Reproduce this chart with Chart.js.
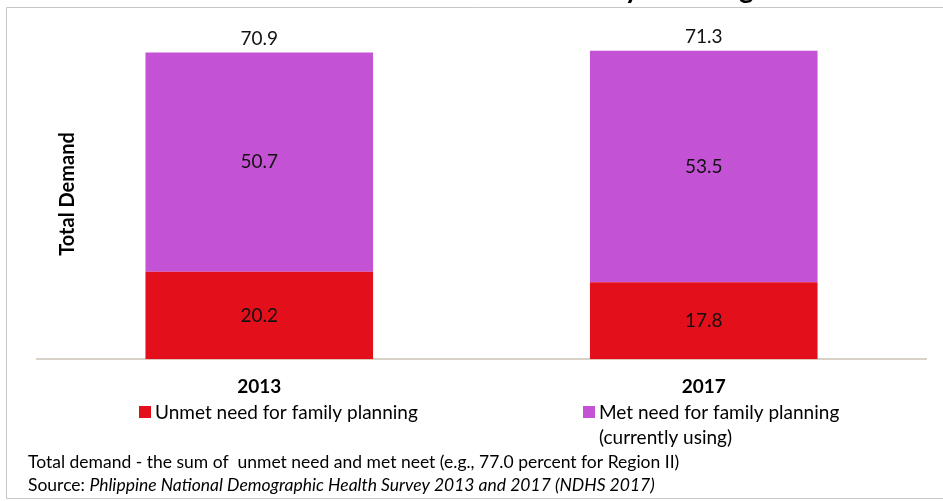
<!DOCTYPE html>
<html>
<head>
<meta charset="utf-8">
<script src="https://cdn.jsdelivr.net/npm/chart.js@4"></script>
<style>
  html, body { margin: 0; padding: 0; background: #fff; }
  #wrap { width: 943px; height: 501px; }
</style>
</head>
<body>
<div id="wrap"><canvas id="demandChart" width="943" height="501"></canvas></div>
<script>
// data
const years = ['2013', '2017']
const unmetNeed = [20.2, 17.8]
const metNeed = [50.7, 53.5]
const totalDemand = [70.9, 71.3]
const seriesNames = ['Unmet need for family planning', 'Met need for family planning']

const RED = '#e3101c'
const PURPLE = '#c452d4'
const FONT = 'Lato'

// value labels in each segment + totals above bars
const labelsPlugin = {
    id: 'labels',
    afterDatasetsDraw(chart) {
        const ctx = chart.ctx
        ctx.save()
        ctx.fillStyle = '#111'
        ctx.font = `19px ${FONT}`
        ctx.textAlign = 'center'
        ctx.textBaseline = 'middle'
        chart.data.datasets.forEach((ds, i) => {
            chart.getDatasetMeta(i).data.forEach((bar, j) => {
                ctx.fillText(ds.data[j].toFixed(1), bar.x, (bar.y + bar.base) / 2)
            })
        })
        const top = chart.getDatasetMeta(1).data
        const y = chart.scales.y
        top.forEach((bar, j) => {
            ctx.fillText(totalDemand[j].toFixed(1), bar.x, y.getPixelForValue(totalDemand[j]) - 14)
        })
        ctx.restore()
    }
}

// frame, cut title, axis title, legend and notes
const decorPlugin = {
    id: 'decor',
    beforeDraw(chart) {
        const ctx = chart.ctx
        ctx.save()
        ctx.fillStyle = '#fff'
        ctx.fillRect(0, 0, chart.width, chart.height)
        ctx.strokeStyle = '#c9c3cc'
        ctx.lineWidth = 1
        ctx.beginPath()
        ctx.moveTo(chart.width, 7.5)
        ctx.lineTo(6.5, 7.5)
        ctx.lineTo(6.5, 498.5)
        ctx.lineTo(chart.width, 498.5)
        ctx.stroke()
        ctx.restore()
    },
    afterDraw(chart) {
        const ctx = chart.ctx
        ctx.save()
        ctx.fillStyle = '#000'

        // title, mostly cut off at the top
        ctx.font = `bold 28px ${FONT}`
        ctx.textAlign = 'center'
        ctx.textBaseline = 'alphabetic'
        ctx.fillText('Total Demand for Family Planning', 545, -2)

        // y axis title
        ctx.save()
        ctx.translate(68, 194)
        ctx.rotate(-Math.PI / 2)
        ctx.font = `bold 20px ${FONT}`
        ctx.textBaseline = 'middle'
        ctx.fillText('Total Demand', 0, 0)
        ctx.restore()

        // legend
        ctx.textAlign = 'left'
        ctx.textBaseline = 'middle'
        ctx.font = `19px ${FONT}`
        const items = [
            { color: RED, x: 139, lines: [seriesNames[0]] },
            { color: PURPLE, x: 583, lines: [seriesNames[1], '(currently using)'] }
        ]
        items.forEach(it => {
            ctx.fillStyle = it.color
            ctx.fillRect(it.x, 406, 12, 12)
            ctx.fillStyle = '#000'
            it.lines.forEach((t, k) => ctx.fillText(t, it.x + 16, 413 + k * 25))
        })

        // notes
        ctx.font = `17.5px ${FONT}`
        ctx.fillText('Total demand - the sum of  unmet need and met neet (e.g., 77.0 percent for Region II)', 28, 462)
        const src = 'Source: '
        ctx.fillText(src, 28, 485)
        const w = ctx.measureText(src).width
        ctx.font = `italic 17.5px ${FONT}`
        ctx.fillText('Phlippine National Demographic Health Survey 2013 and 2017 (NDHS 2017)', 28 + w, 485)
        ctx.restore()
    }
}

const data = {
    labels: years,
    datasets: [{
        label: seriesNames[0],
        data: unmetNeed,
        backgroundColor: RED
    }, {
        label: seriesNames[1],
        data: metNeed,
        backgroundColor: PURPLE
    }]
}

const options = {
    responsive: false,
    animation: false,
    layout: { padding: { left: 37, right: 17, top: 13, bottom: 95 } },
    datasets: { bar: { categoryPercentage: 1, barPercentage: 0.512 } },
    plugins: {
        legend: { display: false },
        tooltip: { enabled: false }
    },
    scales: {
        x: {
            stacked: true,
            grid: { display: false },
            border: { color: '#d8d2c8', width: 2 },
            ticks: { color: '#000', font: { family: FONT, size: 19, weight: 'bold' }, padding: 8 }
        },
        y: {
            stacked: true,
            display: false,
            min: 0,
            max: 80
        }
    }
}

new Chart('demandChart', { type: 'bar', data, options, plugins: [labelsPlugin, decorPlugin] })
</script>
</body>
</html>
